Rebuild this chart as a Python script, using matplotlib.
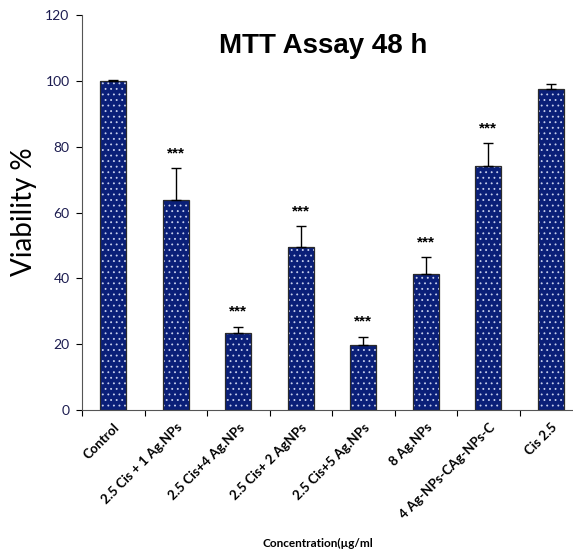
import matplotlib
matplotlib.use("Agg")
import matplotlib.pyplot as plt
import numpy as np

# data
groups = ["Control", "2.5 Cis + 1 Ag.NPs", "2.5 Cis+4 Ag.NPs", "2.5 Cis+ 2 AgNPs",
          "2.5 Cis+5 Ag.NPs", "8 Ag.NPs", "4 Ag-NPs-CAg-NPs-C", "Cis 2.5"]
viability = [100.0, 63.8, 23.4, 49.6, 19.6, 41.3, 74.2, 97.4]
errors = [0.3, 9.7, 1.9, 6.3, 2.7, 5.2, 6.9, 1.7]
signif = ["", "***", "***", "***", "***", "***", "***", ""]

navy = "#0a1f78"
plt.rcParams["hatch.linewidth"] = 0.6

fig = plt.figure(figsize=(5.73, 5.56), dpi=100)
ax = fig.add_axes([82 / 573, 146 / 556, 500 / 573, 395 / 556])

x = np.arange(len(groups))
# dotted fill (hatch colour follows edgecolor), then the outline on top
ax.bar(x, viability, width=0.42, color=navy, edgecolor="#c8d0ee", linewidth=0,
       hatch="...", zorder=2)
ax.bar(x, viability, width=0.42, fill=False, edgecolor="#2b2b2b", linewidth=0.9,
       zorder=3)
# only the upper error is visible in the reference
ax.errorbar(x, viability, yerr=[np.zeros(len(errors)), errors], fmt="none",
            ecolor="black", elinewidth=1, capsize=3.5, capthick=1, zorder=4)

for xi, v, e, s in zip(x, viability, errors, signif):
    if s:
        ax.text(xi, v + e + 4.5, s, ha="center", va="center", fontsize=11,
                fontweight="bold", family="Liberation Sans")

ax.set_xlim(-0.5, len(groups) - 0.5)
ax.set_ylim(0, 120)
ax.set_yticks(range(0, 121, 20))

ax.set_xticks(x)
ax.set_xticklabels(groups, rotation=45, ha="right", rotation_mode="anchor",
                   fontsize=9.5, fontweight="bold", family="Lato")
ax.tick_params(axis="x", length=0, pad=8)
ax.set_xticks(np.arange(-0.5, len(groups), 1), minor=True)
ax.tick_params(axis="x", which="minor", length=4, width=0.8, direction="out")
ax.tick_params(axis="y", length=4, width=0.8, direction="out", pad=5,
               labelsize=10, labelcolor="#1c1c50")
for lab in ax.get_yticklabels():
    lab.set_family("Lato")

for side in ["top", "right"]:
    ax.spines[side].set_visible(False)
ax.spines["left"].set_linewidth(0.8)
ax.spines["bottom"].set_linewidth(0.8)
ax.spines["left"].set_color("#555555")
ax.spines["bottom"].set_color("#555555")

fig.text(323 / 573, 1 - 46 / 556, "MTT Assay 48 h", ha="center", va="center",
         fontsize=20, fontweight="bold", family="Liberation Sans")
fig.text(24 / 573, 1 - 212 / 556, "Viability %", rotation=90, ha="center",
         va="center", fontsize=20, family="Lato")
fig.text(318 / 573, 1 - 543 / 556, "Concentration(\u00b5g/ml", ha="center",
         va="center", fontsize=8.5, fontweight="bold", family="Lato")

fig.savefig("out.png", dpi=100)
